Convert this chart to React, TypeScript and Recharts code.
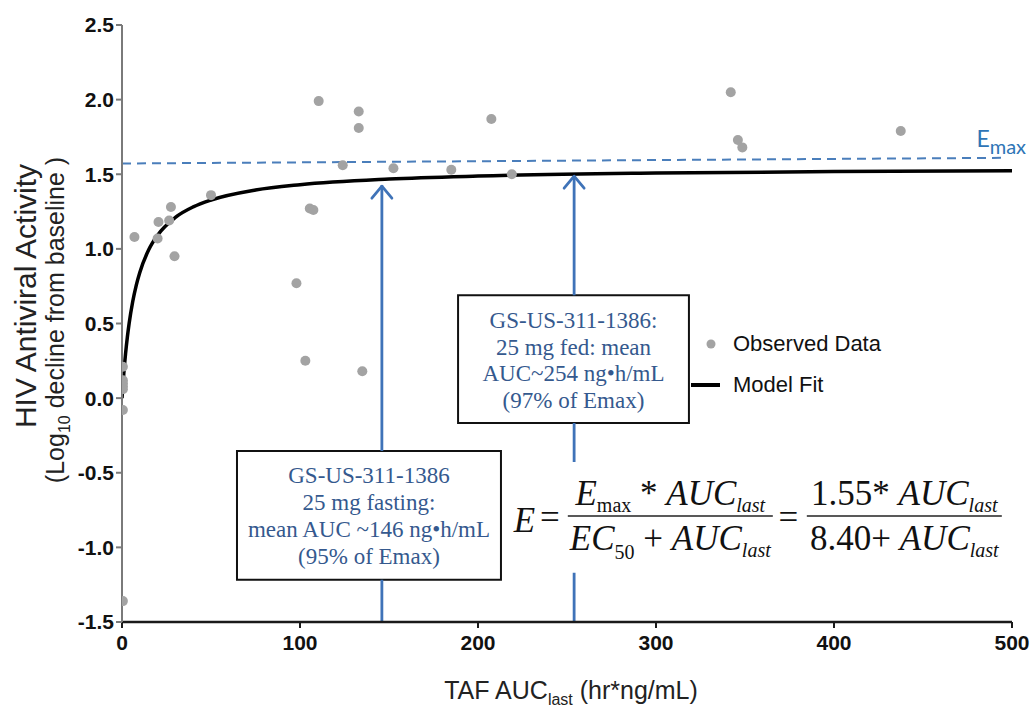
import React from 'react';
import {
  ComposedChart, Line, Scatter, XAxis, YAxis, ReferenceLine, ReferenceArea, ReferenceDot, Legend,
} from 'recharts';

// ---- axis ticks ----
const xTicks = [0, 100, 200, 300, 400, 500];
const yTicks = [-1.5, -1.0, -0.5, 0.0, 0.5, 1.0, 1.5, 2.0, 2.5];

const observedX = [0.5, 0.5, 0.5, 0.5, 0.5, 0.5, 0.5, 7, 20, 20.5, 26.5, 27.5, 29.5, 50, 98, 103, 105.5, 107.5, 110.5, 124, 133, 133, 135, 152.5, 185, 207.5, 219, 342, 346, 348.5, 437.5];
const observedY = [0.21, 0.12, 0.10, 0.08, 0.06, -0.08, -1.36, 1.08, 1.07, 1.18, 1.19, 1.28, 0.95, 1.36, 0.77, 0.25, 1.27, 1.26, 1.99, 1.56, 1.92, 1.81, 0.18, 1.54, 1.53, 1.87, 1.50, 2.05, 1.73, 1.68, 1.79];

// ---- model fit curve ----
const fitX = [0, 1, 2, 3, 4, 6, 8, 10, 15, 20, 30, 40, 50, 75, 100, 150, 200, 300, 400, 500];
const fitY = [0, 0.165, 0.298, 0.408, 0.5, 0.646, 0.756, 0.842, 0.994, 1.092, 1.211, 1.281, 1.327, 1.394, 1.43, 1.468, 1.488, 1.508, 1.518, 1.524];

// ---- Emax dashed reference ----
const emaxX = [0, 495];
const emaxY = [1.572, 1.61];

// ---- arrows (mean AUC) ----
const arrowX = [146, 254];
const arrowTipY = [1.427, 1.494];

// ---- annotation boxes (data coordinates) ----
const box1 = { x1: 64.6, x2: 212.9, y1: -1.217, y2: -0.354 };
const box2 = { x1: 188.8, x2: 318.5, y1: -0.167, y2: 0.689 };
const eqArea = { x1: 219, x2: 496, y1: -1.17, y2: -0.428 };
const box1Lines = ['GS-US-311-1386', '25 mg fasting:', 'mean AUC ~146 ng\u2022h/mL', '(95% of Emax)'];
const box2Lines = ['GS-US-311-1386:', '25 mg fed: mean', 'AUC~254 ng\u2022h/mL', '(97% of Emax)'];

const observed = observedX.map((x, i) => ({ x, y: observedY[i] }));
const modelFit = fitX.map((x, i) => ({ x, y: fitY[i] }));
const arrowTips = arrowX.map((x, i) => ({ x, y: arrowTipY[i] }));

const Y_MIN = -1.5;
const arrowSegments = [
  { x: arrowX[0], a: Y_MIN, b: box1.y1 },
  { x: arrowX[0], a: box1.y2, b: arrowTipY[0] },
  { x: arrowX[1], a: Y_MIN, b: eqArea.y1 },
  { x: arrowX[1], a: eqArea.y2, b: box2.y1 },
  { x: arrowX[1], a: box2.y2, b: arrowTipY[1] },
];

const SANS = '"Liberation Sans", Arial, sans-serif';
const SERIF = '"Liberation Serif", "Times New Roman", serif';
const BLUE = '#3f73b8';
const BOX_TEXT = '#35598e';
const GRAY_DOT = '#a3a3a3';

const boxLabel = (lines: string[]) => (props: any) => {
  const vb = props.viewBox || {};
  const cx = vb.x + vb.width / 2;
  return (
    <g>
      {lines.map((t, i) => (
        <text key={i} x={cx} y={vb.y + 32.5 + i * 26.8} textAnchor="middle" fontFamily={SERIF} fontSize={23} fill={BOX_TEXT}>
          {t}
        </text>
      ))}
    </g>
  );
};

const equationLabel = (props: any) => {
  const vb = props.viewBox || {};
  const ex = vb.x;
  const ey = vb.y;
  const fs = 35;
  const sub = 20;
  const n1 = ex + 158.5;
  const n2 = ex + 392.5;
  const common = { fontFamily: SERIF, fontSize: fs, fill: '#111' } as any;
  return (
    <g>
      <text x={ex + 2} y={ey + 70} {...common} fontStyle="italic">E</text>
      <text x={ex + 38} y={ey + 67} {...common} textAnchor="middle">=</text>
      <line x1={ex + 56} x2={ex + 261} y1={ey + 54} y2={ey + 54} stroke="#222" strokeWidth={1.6} />
      <text x={n1} y={ey + 43} {...common} textAnchor="middle">
        <tspan fontStyle="italic">E</tspan>
        <tspan fontSize={sub} dy={7}>max</tspan>
        <tspan dy={-7}> * </tspan>
        <tspan fontStyle="italic">AUC</tspan>
        <tspan fontStyle="italic" fontSize={sub} dy={7}>last</tspan>
      </text>
      <text x={n1} y={ey + 88} {...common} textAnchor="middle">
        <tspan fontStyle="italic">EC</tspan>
        <tspan fontSize={sub} dy={9}>50</tspan>
        <tspan dy={-9}> + </tspan>
        <tspan fontStyle="italic">AUC</tspan>
        <tspan fontStyle="italic" fontSize={sub} dy={7}>last</tspan>
      </text>
      <text x={ex + 276.5} y={ey + 67} {...common} textAnchor="middle">=</text>
      <line x1={ex + 295} x2={ex + 490} y1={ey + 54} y2={ey + 54} stroke="#222" strokeWidth={1.6} />
      <text x={n2} y={ey + 43} {...common} textAnchor="middle">
        <tspan>1.55* </tspan>
        <tspan fontStyle="italic">AUC</tspan>
        <tspan fontStyle="italic" fontSize={sub} dy={7}>last</tspan>
      </text>
      <text x={n2} y={ey + 88} {...common} textAnchor="middle">
        <tspan>8.40+ </tspan>
        <tspan fontStyle="italic">AUC</tspan>
        <tspan fontStyle="italic" fontSize={sub} dy={7}>last</tspan>
      </text>
    </g>
  );
};

const emaxLabel = (props: any) => {
  const vb = props.viewBox || {};
  return (
    <text x={vb.x} y={vb.y} fontFamily="Lato, 'Open Sans', sans-serif" fill="#2e75b6" fontSize={23}>
      <tspan>E</tspan>
      <tspan fontSize={20} dy={7}>max</tspan>
    </text>
  );
};

const yLabel = () => (
  <g>
    <text transform="translate(36,296) rotate(-90)" textAnchor="middle" fontFamily={SANS} fontSize={30} fill="#222">
      <tspan>HIV</tspan>
      <tspan dx={8}>Antiviral Activity</tspan>
    </text>
    <text transform="translate(64,320) rotate(-90)" textAnchor="middle" fontFamily={SANS} fontSize={25} fill="#222">
      <tspan>(Log</tspan>
      <tspan fontSize={16} dy={6}>10</tspan>
      <tspan dy={-6}> decline from baseline )</tspan>
    </text>
  </g>
);

const xLabel = () => (
  <text x={571} y={699} textAnchor="middle" fontFamily={SANS} fontSize={25} fill="#222">
    <tspan>TAF AUC</tspan>
    <tspan fontSize={16} dy={6}>last</tspan>
    <tspan dy={-6}> (hr*ng/mL)</tspan>
  </text>
);

const renderLegend = () => (
  <div style={{ fontFamily: SANS, fontSize: 22, color: '#111', lineHeight: '41px' }}>
    <div style={{ display: 'flex', alignItems: 'center', height: 41 }}>
      <svg width={45} height={20} style={{ display: 'block' }}>
        <circle cx={23} cy={10} r={4.5} fill={GRAY_DOT} />
      </svg>
      <span>Observed Data</span>
    </div>
    <div style={{ display: 'flex', alignItems: 'center', height: 41 }}>
      <svg width={45} height={20} style={{ display: 'block' }}>
        <line x1={3} x2={32} y1={10} y2={10} stroke="#000" strokeWidth={4} />
      </svg>
      <span>Model Fit</span>
    </div>
  </div>
);

const dotShape = (p: any) => <circle cx={p.cx} cy={p.cy} r={5} fill={GRAY_DOT} />;
const arrowHead = (p: any) => (
  <path d={`M${p.cx - 10},${p.cy + 13} L${p.cx},${p.cy + 1} L${p.cx + 10},${p.cy + 13}`} fill="none" stroke={BLUE} strokeWidth={2.8} strokeLinecap="round" strokeLinejoin="round" />
);

export default function App() {
  return (
    <div style={{ position: 'absolute', left: 0, top: 0, width: 1032, height: 709, background: '#fff' }}>
      <ComposedChart width={1032} height={709} margin={{ top: 25, right: 20, bottom: 57, left: 0 }}>
        <XAxis
          type="number"
          dataKey="x"
          domain={[0, 500]}
          ticks={xTicks}
          allowDataOverflow
          height={30}
          tickSize={6}
          tickMargin={7}
          tick={{ fontSize: 21, fontWeight: 700, fill: '#111', fontFamily: SANS }}
          axisLine={{ stroke: '#1a1a1a', strokeWidth: 2.5 }}
          tickLine={{ stroke: '#1a1a1a', strokeWidth: 2 }}
          label={xLabel}
        />
        <YAxis
          type="number"
          dataKey="y"
          domain={[-1.5, 2.5]}
          ticks={yTicks}
          allowDataOverflow
          width={122}
          tickSize={6}
          tickMargin={2}
          tickFormatter={(v: number) => v.toFixed(1)}
          tick={{ fontSize: 21, fontWeight: 700, fill: '#111', fontFamily: SANS }}
          axisLine={{ stroke: '#7a7a7a', strokeWidth: 2 }}
          tickLine={{ stroke: '#7a7a7a', strokeWidth: 2 }}
          label={yLabel}
        />
        <ReferenceLine
          segment={[{ x: emaxX[0], y: emaxY[0] }, { x: emaxX[1], y: emaxY[1] }]}
          stroke="#4a7ebb"
          strokeWidth={2}
          strokeDasharray="9 6"
        />
        {arrowSegments.map((s, i) => (
          <ReferenceLine key={i} segment={[{ x: s.x, y: s.a }, { x: s.x, y: s.b }]} stroke={BLUE} strokeWidth={2.8} />
        ))}
        <ReferenceArea x1={box1.x1} x2={box1.x2} y1={box1.y1} y2={box1.y2} fill="#fff" fillOpacity={1} stroke="#111" strokeWidth={2} label={boxLabel(box1Lines)} />
        <ReferenceArea x1={box2.x1} x2={box2.x2} y1={box2.y1} y2={box2.y2} fill="#fff" fillOpacity={1} stroke="#111" strokeWidth={2} label={boxLabel(box2Lines)} />
        <ReferenceArea x1={eqArea.x1} x2={eqArea.x2} y1={eqArea.y1} y2={eqArea.y2} fill="#fff" fillOpacity={0} stroke="none" label={equationLabel} />
        <ReferenceDot x={480} y={1.68} r={0} fill="none" stroke="none" label={emaxLabel} />
        <Line data={modelFit} dataKey="y" type="monotone" stroke="#000" strokeWidth={3.5} dot={false} isAnimationActive={false} legendType="none" />
        <Scatter data={observed} dataKey="y" shape={dotShape} isAnimationActive={false} legendType="none" />
        <Scatter data={arrowTips} dataKey="y" shape={arrowHead} isAnimationActive={false} legendType="none" />
        <Legend layout="vertical" align="center" verticalAlign="middle" content={renderLegend} wrapperStyle={{ position: 'absolute', left: 688, top: 323, width: 230 }} />
      </ComposedChart>
    </div>
  );
}
